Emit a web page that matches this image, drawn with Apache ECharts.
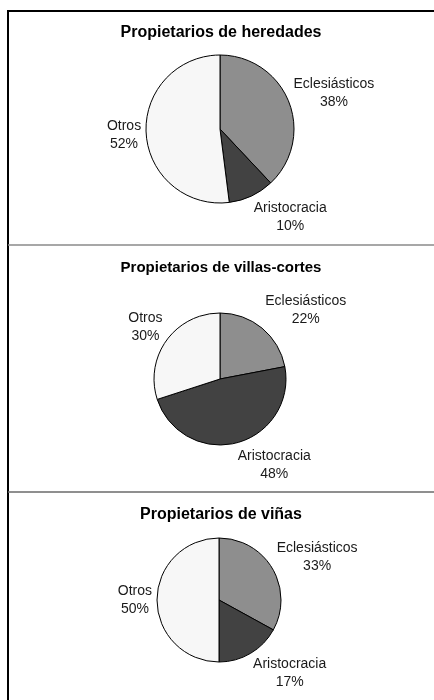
<!DOCTYPE html>
<html>
<head>
<meta charset="utf-8">
<script src="https://cdn.jsdelivr.net/npm/echarts@6/dist/echarts.min.js"></script>
<style>
    html, body { margin: 0; padding: 0; background: #fff; }
    .chart { width: 434px; height: 700px; }
</style>
</head>
<body>
<div class="chart"></div>
<script>
var categories = ["Eclesiásticos", "Aristocracia", "Otros"];
var titles = ["Propietarios de heredades", "Propietarios de villas-cortes", "Propietarios de viñas"];
var heredades = [38, 10, 52];
var villasCortes = [22, 48, 30];
var vinas = [33, 17, 50];
var allData = [heredades, villasCortes, vinas];

(function() {
    var myColor = ["#8e8e8e", "#424242", "#f7f7f7"];
    // pie centers and radius (px)
    var pies = [
        { cx: 220, cy: 129, r: 74, titleTop: 25, titleSize: 16 },
        { cx: 220, cy: 379, r: 66, titleTop: 260, titleSize: 15 },
        { cx: 219, cy: 600, r: 62, titleTop: 507, titleSize: 16 }
    ];
    let myChart = echarts.init(document.querySelector(".chart"));

    // label placed just outside the slice, along its middle direction
    function placeLabel(params) {
        var vals = allData[params.seriesIndex];
        var p = pies[params.seriesIndex];
        var total = 0, cum = 0;
        vals.forEach(function(v, i) {
            total += v;
            if (i < params.dataIndex) cum += v;
        });
        var a = (cum + vals[params.dataIndex] / 2) / total * Math.PI * 2;
        var ux = Math.sin(a), uy = -Math.cos(a);
        var d = p.r + 5;
        var w = params.labelRect.width, h = params.labelRect.height;
        return {
            x: p.cx + ux * d + (ux >= 0 ? 1 : -1) * w / 2,
            y: p.cy + uy * d + uy * h / 2,
            align: "center",
            verticalAlign: "middle"
        };
    }

    let option = {
        backgroundColor: "#fff",
        title: titles.map(function(t, i) {
            return {
                text: t,
                left: 221,
                top: pies[i].titleTop,
                padding: 0,
                textAlign: "center",
                textStyle: {
                    fontFamily: "Liberation Sans",
                    fontSize: pies[i].titleSize,
                    fontWeight: "bold",
                    color: "#000"
                }
            };
        }),
        graphic: [
            { type: "line", shape: { x1: 7, y1: 11, x2: 434, y2: 11 }, style: { stroke: "#000", lineWidth: 2 } },
            { type: "line", shape: { x1: 8, y1: 10, x2: 8, y2: 700 }, style: { stroke: "#000", lineWidth: 2 } },
            { type: "line", shape: { x1: 8, y1: 245, x2: 434, y2: 245 }, style: { stroke: "#8a8a8a", lineWidth: 1.5 } },
            { type: "line", shape: { x1: 8, y1: 492, x2: 434, y2: 492 }, style: { stroke: "#6a6a6a", lineWidth: 1.5 } }
        ],
        series: allData.map(function(vals, i) {
            return {
                name: titles[i],
                type: "pie",
                center: [pies[i].cx, pies[i].cy],
                radius: pies[i].r,
                startAngle: 90,
                clockwise: true,
                avoidLabelOverlap: false,
                animation: false,
                color: myColor,
                data: categories.map(function(c, k) {
                    return { name: c, value: vals[k] };
                }),
                itemStyle: {
                    borderColor: "#000",
                    borderWidth: 1
                },
                label: {
                    show: true,
                    position: "outside",
                    formatter: "{b}\n{c}%",
                    fontFamily: "Liberation Sans",
                    fontSize: 14,
                    lineHeight: 18,
                    color: "#1a1a1a"
                },
                labelLine: {
                    show: false
                },
                labelLayout: placeLabel,
                emphasis: { disabled: true }
            };
        })
    };
    myChart.setOption(option);
    window.addEventListener("resize", function() {
        myChart.resize();
    });
})();
</script>
</body>
</html>
